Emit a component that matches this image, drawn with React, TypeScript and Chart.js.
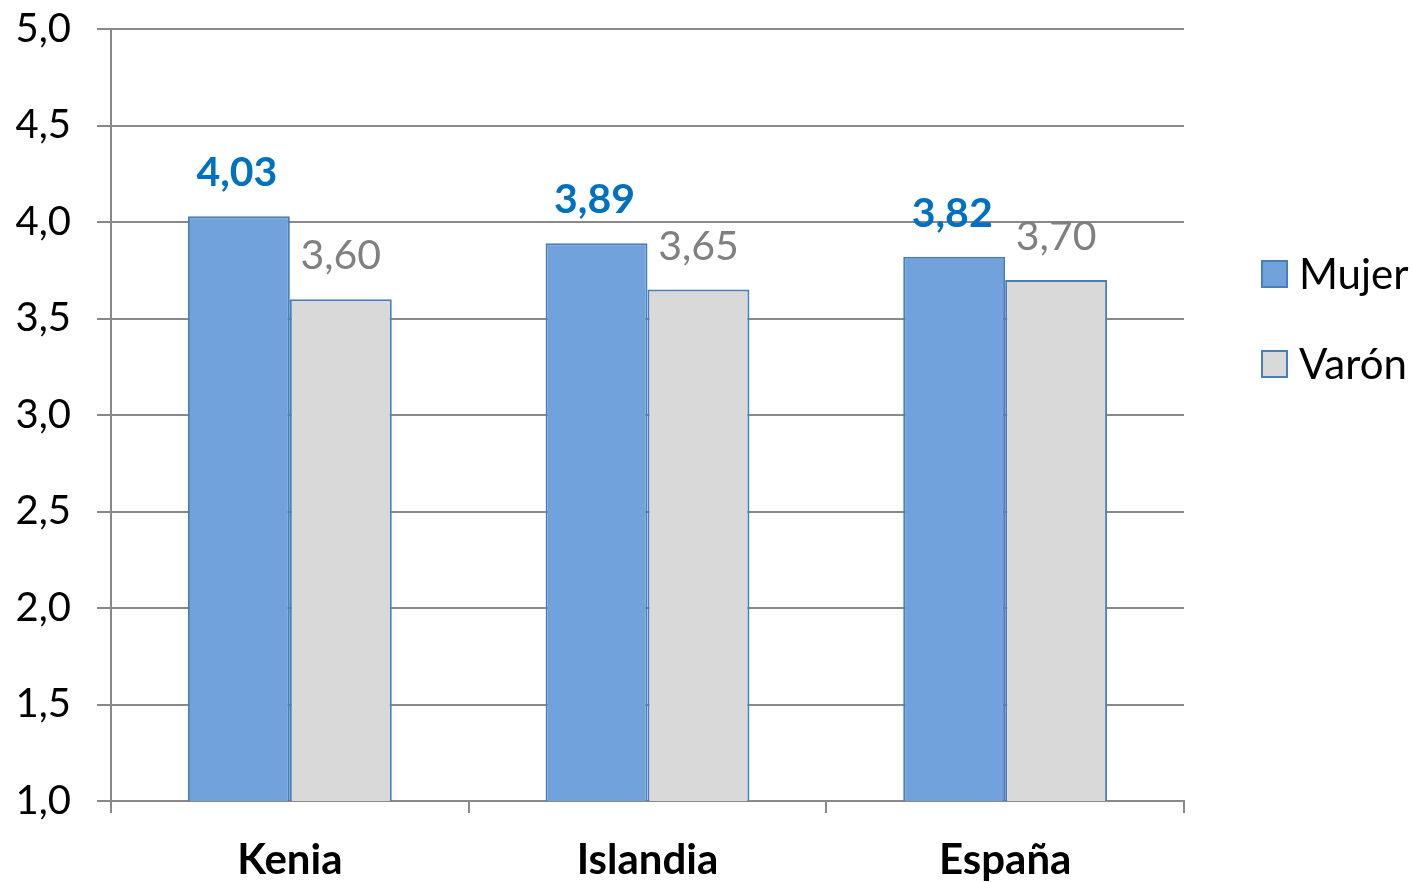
import React, { useEffect, useRef } from "react";
import { Chart, registerables } from "chart.js";

Chart.register(...registerables);

const categories = ["Kenia", "Islandia", "España"];
const mujerValues = [4.03, 3.89, 3.82];
const varonValues = [3.6, 3.65, 3.7];
const seriesNames = ["Mujer", "Varón"];
const yMin = 1;
const yMax = 5;
const yStep = 0.5;

const FONT = "Lato, 'Open Sans', sans-serif";
const MUJER_FILL = "#71A2DB";
const VARON_FILL = "#D9D9D9";
const BAR_BORDER = "#4A7EBB";
const GRID = "#898989";

const labelsPlugin = {
  id: "valueLabels",
  afterDatasetsDraw(chart: any) {
    const ctx = chart.ctx;
    ctx.save();
    chart.data.datasets.forEach((ds: any, di: number) => {
      const meta = chart.getDatasetMeta(di);
      meta.data.forEach((bar: any, i: number) => {
        const v = ds.data[i];
        const txt = v.toFixed(2).replace(".", ",");
        ctx.font = di === 0 ? `bold 41px ${FONT}` : `41px ${FONT}`;
        ctx.fillStyle = di === 0 ? "#0070C0" : "#808080";
        ctx.textAlign = "center";
        ctx.textBaseline = "alphabetic";
        ctx.fillText(txt, bar.x - (di === 0 ? 2 : 0), bar.y - 30);
      });
    });
    ctx.restore();
  },
};

const legendPlugin = {
  id: "customLegend",
  afterDraw(chart: any) {
    const ctx = chart.ctx;
    ctx.save();
    const fills = [MUJER_FILL, VARON_FILL];
    const centers = [274, 364];
    seriesNames.forEach((name, i) => {
      const cy = centers[i];
      ctx.fillStyle = fills[i];
      ctx.fillRect(1262, cy - 13, 25, 26);
      ctx.strokeStyle = BAR_BORDER;
      ctx.lineWidth = 2;
      ctx.strokeRect(1262, cy - 13, 25, 26);
      ctx.fillStyle = "#000000";
      ctx.font = `42px ${FONT}`;
      ctx.textAlign = "left";
      ctx.textBaseline = "middle";
      ctx.fillText(name, 1299, cy + 1);
    });
    ctx.restore();
  },
};

export default function App() {
  const ref = useRef<HTMLCanvasElement | null>(null);
  useEffect(() => {
    if (!ref.current) return;
    const chart = new Chart(ref.current, {
      type: "bar",
      data: {
        labels: categories,
        datasets: [
          {
            label: seriesNames[0],
            data: mujerValues,
            backgroundColor: MUJER_FILL,
            borderColor: BAR_BORDER,
            borderWidth: 2,
            barPercentage: 1,
            categoryPercentage: 0.57,
          },
          {
            label: seriesNames[1],
            data: varonValues,
            backgroundColor: VARON_FILL,
            borderColor: BAR_BORDER,
            borderWidth: 2,
            barPercentage: 1,
            categoryPercentage: 0.57,
          },
        ],
      },
      options: {
        responsive: false,
        animation: false,
        layout: { padding: { left: 0, right: 230, top: 29, bottom: 0 } },
        plugins: { legend: { display: false }, tooltip: { enabled: false } },
        scales: {
          x: {
            grid: {
              drawOnChartArea: false,
              drawTicks: true,
              tickLength: 12,
              color: GRID,
              lineWidth: 2,
              offset: true,
            },
            border: { display: true, color: GRID, width: 2 },
            ticks: {
              color: "#000000",
              font: { family: FONT, size: 42, weight: "bold" },
              padding: 22,
            },
            afterFit(scale: any) {
              scale.height = 81;
              scale.paddingLeft = 0;
              scale.paddingRight = 0;
            },
          },
          y: {
            min: yMin,
            max: yMax,
            grid: {
              color: GRID,
              lineWidth: 2,
              drawTicks: true,
              tickLength: 14,
            },
            border: { display: true, color: GRID, width: 2 },
            ticks: {
              stepSize: yStep,
              color: "#000000",
              font: { family: FONT, size: 40 },
              padding: 26,
              callback: (v: any) => Number(v).toFixed(1).replace(".", ","),
            },
            afterFit(scale: any) {
              scale.width = 111;
              scale.paddingTop = 0;
              scale.paddingBottom = 0;
            },
          },
        },
      },
      plugins: [labelsPlugin, legendPlugin],
    });
    return () => chart.destroy();
  }, []);
  return (
    <div style={{ position: "fixed", left: 0, top: 0, width: 1414, height: 882, background: "#fff" }}>
      <canvas ref={ref} width={1414} height={882} />
    </div>
  );
}
